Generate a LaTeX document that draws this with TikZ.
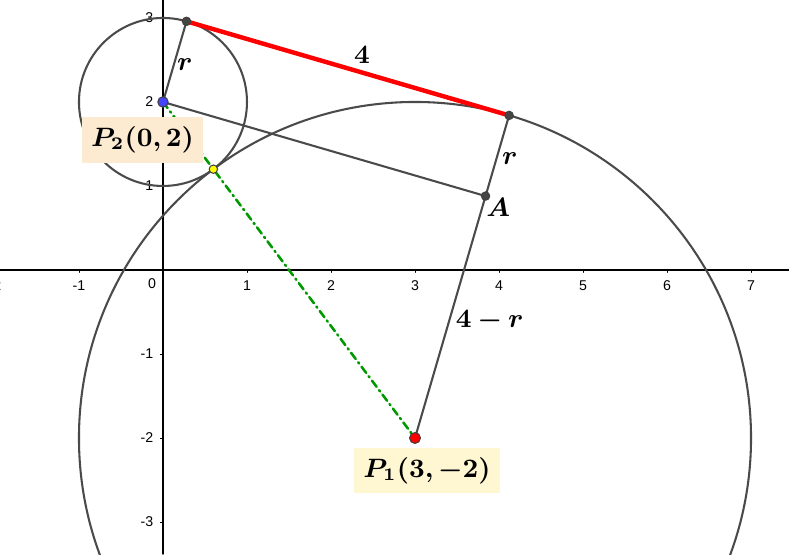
\documentclass[tikz,border=0pt]{standalone}
\usepackage{amsmath}
\usepackage{bm}
\usepackage{fontspec}
\usepackage{tikz}
\newfontfamily\ticksf{Liberation Sans}
\definecolor{curvegray}{rgb}{0.29,0.29,0.29}
\definecolor{ptgray}{rgb}{0.27,0.27,0.27}
\definecolor{ptblue}{rgb}{0.27,0.27,1}
\definecolor{ptred}{rgb}{1,0,0}
\definecolor{ptyellow}{rgb}{1,1,0}
\definecolor{dashgreen}{rgb}{0,0.6,0}
\definecolor{tanfill}{rgb}{0.99,0.92,0.82}
\definecolor{lemonfill}{rgb}{1,0.97,0.82}
\tikzset{
  curve/.style={color=curvegray,line width=0.7pt},
  tick/.style={font=\ticksf\fontsize{4.8}{5.5}\selectfont,inner sep=0pt},
  lab/.style={font=\fontsize{9}{10.5}\selectfont,inner sep=0pt},
  ptdot/.style={draw=black!75,line width=0.35pt,fill=#1}
}
\begin{document}
\begin{tikzpicture}[line cap=round,line join=round,x=1cm,y=1cm]
\clip(-1.94,-3.381) rectangle (7.452,3.214);
\coordinate (P1) at (3,-2);
\coordinate (P2) at (0,2);
\coordinate (T1) at (4.12,1.84);
\coordinate (T2) at (0.28,2.96);
\coordinate (A) at (3.84,0.88);
\coordinate (Q) at (0.6,1.2);
\draw[line width=0.45pt] (-1.94,0)-- (7.452,0);
\draw[line width=0.45pt] (0,-3.381)-- (0,3.214);
\foreach \x in {-2,-1,1,2,3,4,5,6,7}
  \draw[line width=0.3pt] (\x,0)-- (\x,-0.03) node[tick,below=0.09cm] {\x};
\foreach \y in {-3,-2,-1,1,2,3}
  \draw[line width=0.3pt] (0,\y)-- (-0.03,\y) node[tick,left=0.08cm] {\y};
\draw (-0.13,-0.165) node[tick] {0};
\draw[curve] (P1) circle (4);
\draw[curve] (P2) circle (1);
\draw[curve] (P2)-- (T2);
\draw[curve] (P2)-- (A);
\draw[curve] (P1)-- (A);
\draw[curve] (A)-- (T1);
\draw[color=dashgreen,line width=0.85pt,dash pattern=on 2.6pt off 1.4pt on 0.5pt off 1.4pt] (P2)-- (P1);
\draw[color=ptred,line width=1.5pt] (T2)-- (T1);
\draw (2.37,2.56) node[lab] {$\bm{4}$};
\draw (0.26,2.44) node[lab] {$\bm{r}$};
\draw (4.13,1.33) node[lab] {$\bm{r}$};
\draw (3.99,0.74) node[lab] {$\bm{A}$};
\draw (3.89,-0.60) node[lab] {$\bm{4-r}$};
\node[lab,fill=tanfill,minimum width=1.44cm,minimum height=0.548cm] (P2lab) at (-0.244,1.548) {$\bm{P_2(0,2)}$};
\node[lab,fill=lemonfill,minimum width=1.74cm,minimum height=0.536cm] (P1lab) at (3.143,-2.387) {$\bm{P_1(3,-2)}$};
\fill[ptdot=ptgray] (T2) circle (0.05);
\fill[ptdot=ptgray] (T1) circle (0.05);
\fill[ptdot=ptgray] (A) circle (0.05);
\fill[ptdot=ptyellow] (Q) circle (0.05);
\fill[ptdot=ptblue] (P2) circle (0.062);
\fill[ptdot=ptred] (P1) circle (0.065);
\end{tikzpicture}
\end{document}
